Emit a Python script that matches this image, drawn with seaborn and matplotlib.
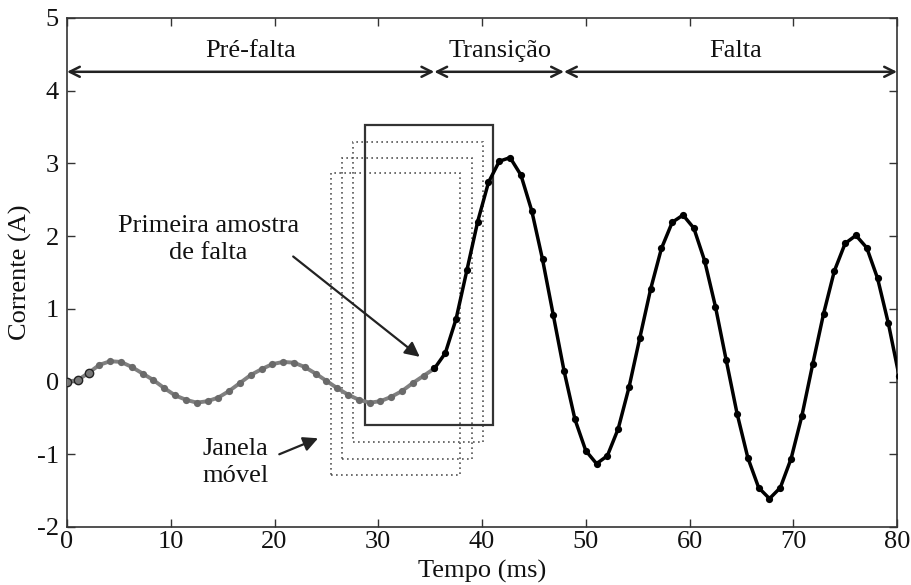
import numpy as np
import pandas as pd
import matplotlib
matplotlib.use("Agg")
import matplotlib.pyplot as plt
import seaborn as sns
from matplotlib.patches import Rectangle

# ---------------- data ----------------
sample_period_ms = 1000.0 / 960.0  # 16 samples per 60 Hz cycle

prefault_idx = list(range(0, 35))
prefault_val = [0.00, 0.02, 0.12, 0.23, 0.28, 0.27, 0.20, 0.11, 0.02, -0.09,
                -0.19, -0.25, -0.29, -0.27, -0.22, -0.13, -0.02, 0.09, 0.17, 0.24,
                0.27, 0.26, 0.20, 0.11, 0.01, -0.09, -0.18, -0.25, -0.29, -0.27,
                -0.21, -0.13, -0.02, 0.08, 0.18]

fault_idx = list(range(34, 78))
fault_val = [0.18, 0.39, 0.86, 1.53, 2.20, 2.74, 3.03, 3.08, 2.84, 2.35,
             1.68, 0.91, 0.14, -0.52, -0.95, -1.13, -1.02, -0.65, -0.08, 0.60,
             1.27, 1.83, 2.19, 2.29, 2.11, 1.66, 1.03, 0.29, -0.44, -1.05,
             -1.46, -1.61, -1.46, -1.06, -0.47, 0.24, 0.93, 1.52, 1.90, 2.01,
             1.84, 1.42, 0.80, 0.07]

highlight_n = 3  # first samples drawn with dark outline

# region arrows
regions_start = [0.0, 35.4, 47.9]
regions_end = [35.4, 47.9, 80.0]
regions_label = ["Pré-falta", "Transição", "Falta"]
regions_label_x = [17.7, 41.7, 64.4]

# moving windows (x0, x1, y0, y1)
win_x0 = [25.44, 26.54, 27.60, 28.72]
win_x1 = [37.90, 39.01, 40.07, 41.09]
win_y0 = [-1.28, -1.06, -0.83, -0.60]
win_y1 = [2.87, 3.08, 3.30, 3.53]
win_style = [":", ":", ":", "-"]

xticks = [0, 10, 20, 30, 40, 50, 60, 70, 80]
yticks = [-2, -1, 0, 1, 2, 3, 4, 5]

# ---------------- style ----------------
sns.set_style("ticks")
plt.rcParams["font.family"] = ["Liberation Serif", "DejaVu Serif"]
plt.rcParams["axes.unicode_minus"] = False
FS = 19

pre = pd.DataFrame({"t": np.array(prefault_idx) * sample_period_ms, "i": prefault_val})
flt = pd.DataFrame({"t": np.array(fault_idx) * sample_period_ms, "i": fault_val})

fig = plt.figure(figsize=(9.11, 5.85), dpi=100)
ax = fig.add_axes([0.07355, 0.09915, 0.9111, 0.8701])

for x0, x1, y0, y1, ls in zip(win_x0, win_x1, win_y0, win_y1, win_style):
    if ls == "-":
        ax.add_patch(Rectangle((x0, y0), x1 - x0, y1 - y0, fill=False,
                               ec="#333333", lw=1.6, ls="-", zorder=2))
    else:
        ax.add_patch(Rectangle((x0, y0), x1 - x0, y1 - y0, fill=False,
                               ec="#555555", lw=1.2, ls=(0, (1, 2)), zorder=2))

sns.lineplot(data=pre, x="t", y="i", ax=ax, color="#808080", lw=2.8,
             marker="o", markersize=5.2, markeredgewidth=0,
             markerfacecolor="#6a6a6a", zorder=3, legend=False)
hl = pre.iloc[:highlight_n]
ax.plot(hl["t"], hl["i"], ls="none", marker="o", markersize=6,
        markerfacecolor="#777777", markeredgecolor="#222222",
        markeredgewidth=1.0, zorder=4)
sns.lineplot(data=flt, x="t", y="i", ax=ax, color="black", lw=2.5,
             marker="o", markersize=5.2, markeredgewidth=0,
             markerfacecolor="black", zorder=5, legend=False)

# region arrows
y_arr = 4.26
for s, e, lab, lx in zip(regions_start, regions_end, regions_label, regions_label_x):
    ax.annotate("", xy=(e, y_arr), xytext=(s, y_arr),
                arrowprops=dict(arrowstyle="<->", lw=1.8, color="#222222",
                                shrinkA=0, shrinkB=0, mutation_scale=18))
    ax.text(lx, 4.54, lab, ha="center", va="center", fontsize=FS, color="#111111")

# annotations
ax.text(13.6, 1.955, "Primeira amostra\nde falta", ha="center", va="center",
        fontsize=FS, color="#111111", linespacing=1.3)
ax.annotate("", xy=(34.0, 0.34), xytext=(21.8, 1.72),
            arrowprops=dict(arrowstyle="-|>", lw=1.6, color="#222222",
                            shrinkA=0, shrinkB=0, mutation_scale=22))
ax.annotate("", xy=(24.2, -0.78), xytext=(20.46, -1.0),
            arrowprops=dict(arrowstyle="-|>", lw=1.6, color="#222222",
                            shrinkA=0, shrinkB=0, mutation_scale=22))
ax.text(16.24, -1.11, "Janela\nmóvel", ha="center", va="center",
        fontsize=FS, color="#111111", linespacing=1.3)

ax.set_xlim(0, 80)
ax.set_ylim(-2, 5)
ax.set_xticks(xticks)
ax.set_yticks(yticks)
ax.set_xticklabels([str(v) for v in xticks])
ax.set_yticklabels([str(v) for v in yticks])
ax.tick_params(direction="in", length=6, width=1.0, color="#333333",
               top=True, right=True, labelsize=FS, labelcolor="#111111")
ax.tick_params(axis="x", pad=3)
ax.tick_params(axis="y", pad=6)
for sp in ax.spines.values():
    sp.set_visible(True)
    sp.set_color("#333333")
    sp.set_linewidth(1.2)
ax.set_xlabel("Tempo (ms)", fontsize=FS, labelpad=5, color="#111111")
ax.set_ylabel("Corrente (A)", fontsize=FS, labelpad=3, color="#111111")

fig.savefig("out.png", dpi=100)
